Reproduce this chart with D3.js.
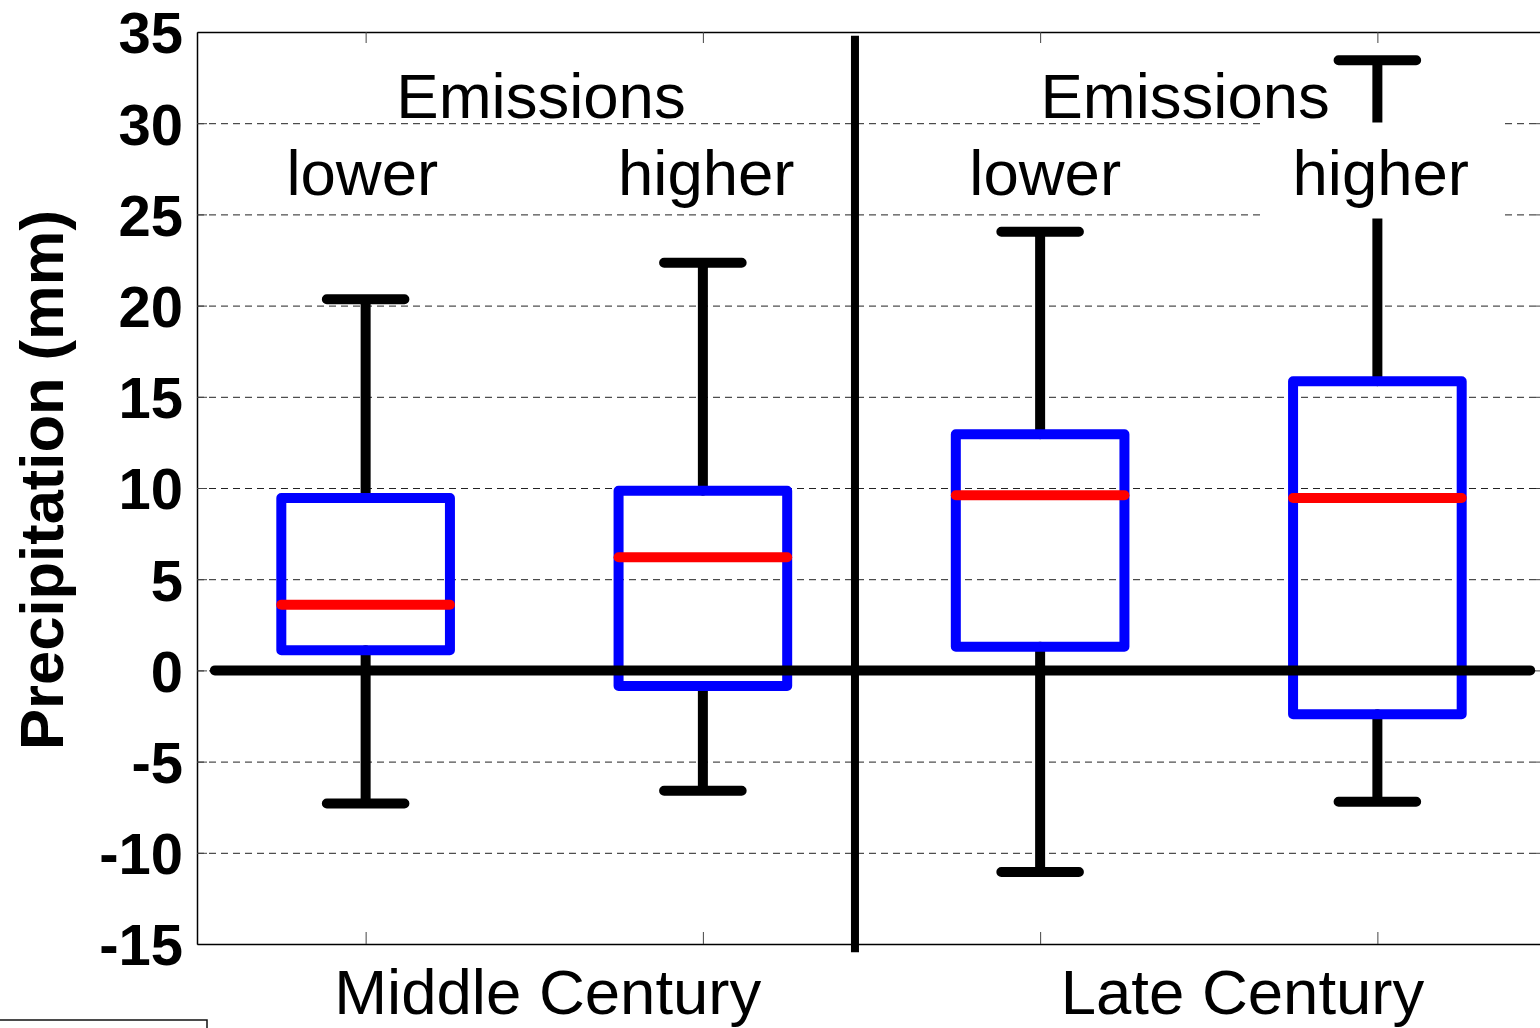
<!DOCTYPE html>
<head>
  <meta charset="UTF-8">
  <title>Precipitation box plot</title>
  <style>
    body { margin: 0; background: #fff; }
    svg { display: block; font-family: "Liberation Sans", Arial, sans-serif; }
  </style>
</head>
<body>
  <script src="https://cdn.jsdelivr.net/npm/d3@7/dist/d3.min.js"></script>
  <script>
    // data
    var categories = ["lower", "higher", "lower", "higher"];
    var groups = ["Middle Century", "Late Century"];
    var whiskerLow = [-7.3, -6.6, -11.05, -7.2];
    var q1 = [1.1, -0.85, 1.3, -2.4];
    var medians = [3.6, 6.2, 9.6, 9.45];
    var q3 = [9.45, 9.85, 12.95, 15.85];
    var whiskerHigh = [20.35, 22.35, 24.05, 33.45];
    var yTicks = [35, 30, 25, 20, 15, 10, 5, 0, -5, -10, -15];

    var width = 1540, height = 1028;
    var plotLeft = 197, plotRight = 1546, plotTop = 32, plotBottom = 944;

    var x = d3.scaleLinear().domain([0.5, 4.5]).range([plotLeft, plotRight]);
    var y = d3.scaleLinear().domain([-15, 35]).range([plotBottom, plotTop]);

    var svg = d3.select("body").append("svg")
      .attr("width", width)
      .attr("height", height);

    // dashed grid
    svg.append("g").attr("id", "grid")
      .selectAll("line")
      .data(yTicks.filter(function(d) { return d > -15 && d < 35; }))
      .enter().append("line")
      .attr("x1", plotLeft).attr("x2", plotRight)
      .attr("y1", function(d) { return y(d) + 0.5; })
      .attr("y2", function(d) { return y(d) + 0.5; })
      .attr("stroke", "#222")
      .attr("stroke-width", 1)
      .attr("stroke-dasharray", "7,5");

    // axes (ticks point inward), plain hyphen for negatives
    svg.append("g")
      .attr("transform", "translate(" + plotLeft + ",0)")
      .call(d3.axisLeft(y).tickValues(yTicks).tickSize(-10).tickSizeOuter(0).tickPadding(14)
        .tickFormat(function(d) { return String(d); }))
      .call(function(g) {
        g.selectAll("text").attr("dy", "0.36em")
          .attr("font-size", 58).attr("font-weight", "bold")
          .attr("font-family", "Liberation Sans, Arial, sans-serif").attr("fill", "#000");
      });
    svg.append("g")
      .attr("transform", "translate(" + plotRight + ",0)")
      .call(d3.axisRight(y).tickValues(yTicks).tickSize(-10).tickSizeOuter(0).tickFormat(""));
    svg.append("g")
      .attr("transform", "translate(0," + plotBottom + ")")
      .call(d3.axisBottom(x).tickValues([1, 2, 3, 4]).tickSize(-12).tickSizeOuter(0).tickFormat(""));
    svg.append("g")
      .attr("transform", "translate(0," + plotTop + ")")
      .call(d3.axisTop(x).tickValues([1, 2, 3, 4]).tickSize(-11).tickSizeOuter(0).tickFormat(""));
    svg.selectAll(".domain").attr("stroke", "#000").attr("stroke-width", 1.5);
    svg.selectAll(".tick line").attr("stroke", "#444");

    var idx = d3.range(categories.length);
    var halfBox = 0.25, halfCap = 0.115;
    var marks = svg.append("g").attr("id", "boxes");

    // whiskers
    marks.selectAll(".whisker")
      .data(idx).enter().append("path")
      .attr("class", "whisker")
      .attr("d", function(i) {
        var cx = x(i + 1);
        return "M" + cx + "," + y(whiskerHigh[i]) + "V" + y(q3[i]) +
               "M" + cx + "," + y(q1[i]) + "V" + y(whiskerLow[i]) +
               "M" + x(i + 1 - halfCap) + "," + y(whiskerHigh[i]) + "H" + x(i + 1 + halfCap) +
               "M" + x(i + 1 - halfCap) + "," + y(whiskerLow[i]) + "H" + x(i + 1 + halfCap);
      })
      .attr("fill", "none")
      .attr("stroke", "#000")
      .attr("stroke-width", 10)
      .attr("stroke-linecap", "round");

    // boxes
    marks.selectAll(".box")
      .data(idx).enter().append("rect")
      .attr("class", "box")
      .attr("x", function(i) { return x(i + 1 - halfBox); })
      .attr("y", function(i) { return y(q3[i]); })
      .attr("width", function(i) { return x(i + 1 + halfBox) - x(i + 1 - halfBox); })
      .attr("height", function(i) { return y(q1[i]) - y(q3[i]); })
      .attr("fill", "none")
      .attr("stroke", "#0000ff")
      .attr("stroke-width", 10)
      .attr("stroke-linejoin", "round");

    // medians
    marks.selectAll(".median")
      .data(idx).enter().append("line")
      .attr("class", "median")
      .attr("x1", function(i) { return x(i + 1 - halfBox); })
      .attr("x2", function(i) { return x(i + 1 + halfBox); })
      .attr("y1", function(i) { return y(medians[i]); })
      .attr("y2", function(i) { return y(medians[i]); })
      .attr("stroke", "#ff0000")
      .attr("stroke-width", 10)
      .attr("stroke-linecap", "round");

    // zero line
    svg.append("line")
      .attr("x1", x(0.553)).attr("x2", x(4.453))
      .attr("y1", y(0)).attr("y2", y(0))
      .attr("stroke", "#000").attr("stroke-width", 10)
      .attr("stroke-linecap", "round");

    // separator between the two periods
    svg.append("line")
      .attr("x1", x(2.451)).attr("x2", x(2.451))
      .attr("y1", y(34.8)).attr("y2", y(-15.45))
      .attr("stroke", "#000").attr("stroke-width", 8);

    // labels
    var labels = svg.append("g").attr("id", "labels")
      .attr("font-size", 63.5).attr("fill", "#000");

    // right "higher" label sits on a white patch
    labels.append("rect")
      .attr("x", 1265).attr("y", 122.5)
      .attr("width", 238).attr("height", 96)
      .attr("fill", "#fff");

    var catOffset = [-0.01, 0.01, 0.015, 0.01];
    labels.selectAll(".cat")
      .data(idx).enter().append("text")
      .attr("class", "cat")
      .attr("x", function(i) { return x(i + 1 + catOffset[i]); })
      .attr("y", 195)
      .attr("text-anchor", "middle")
      .text(function(i) { return categories[i]; });

    labels.selectAll(".emis")
      .data([1.52, 3.43]).enter().append("text")
      .attr("class", "emis")
      .attr("x", function(d) { return x(d); })
      .attr("y", 118)
      .attr("text-anchor", "middle")
      .text("Emissions");

    labels.selectAll(".grp")
      .data([1.54, 3.6]).enter().append("text")
      .attr("class", "grp")
      .attr("x", function(d) { return x(d); })
      .attr("y", 1014)
      .attr("text-anchor", "middle")
      .text(function(d, i) { return groups[i]; });

    svg.append("text")
      .attr("transform", "translate(63,480) rotate(-90)")
      .attr("text-anchor", "middle")
      .attr("font-size", 61.5)
      .attr("font-weight", "bold")
      .text("Precipitation (mm)");

    // fragment of a frame in the lower-left corner
    svg.append("rect")
      .attr("x", -3).attr("y", 1020)
      .attr("width", 210).attr("height", 30)
      .attr("fill", "none").attr("stroke", "#111").attr("stroke-width", 1.5);
  </script>
</body>
